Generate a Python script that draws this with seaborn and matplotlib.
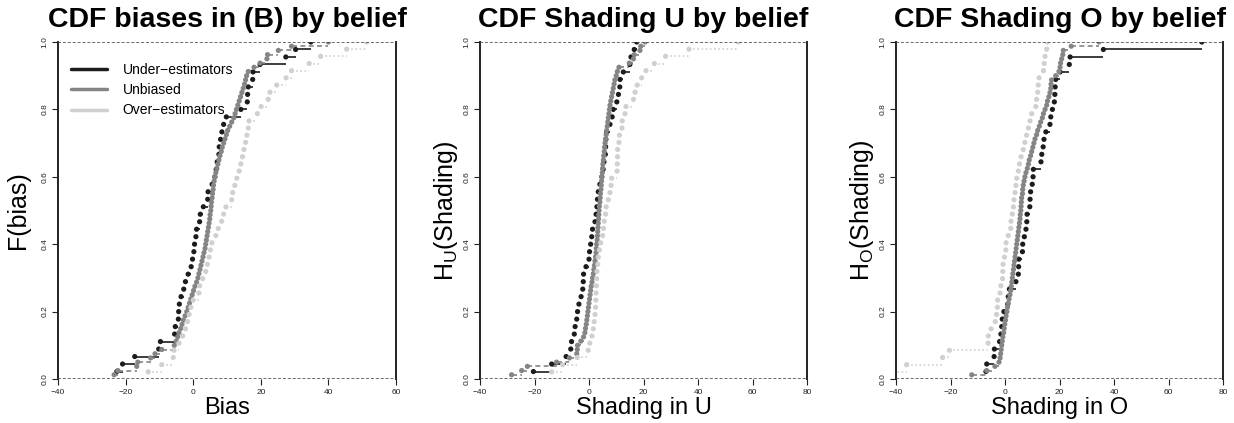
import numpy as np
import pandas as pd
import matplotlib
matplotlib.use("Agg")
import matplotlib.pyplot as plt
from matplotlib.lines import Line2D
import seaborn as sns

# --------------------------
# Data (sorted values)
# --------------------------
bias_under = [-22.6, -20.9, -17.3, -10.2, -9.7, -5.5, -5.3, -4.4, -4.3, -4.1,
              -3.6, -2.8, -2.3, -1.5, -0.6, -0.2, 0.2, 0.4, 0.8, 1.0,
              1.9, 2.1, 3.0, 4.3, 4.4, 5.6, 6.4, 6.8, 7.1, 7.6,
              7.7, 8.1, 8.5, 9.0, 9.8, 14.1, 16.0, 16.1, 16.3, 17.6,
              17.7, 19.8, 27.4, 30.3, 34.8]
bias_unbiased = [-23.4, -22.3, -16.7, -16.4, -12.6, -11.3, -9.3, -5.6, -5.0, -4.6,
                 -4.2, -3.7, -3.3, -2.9, -2.4, -1.9, -1.5, -1.1, -0.7, -0.3,
                 0.1, 0.5, 1.0, 1.4, 1.7, 2.0, 2.3, 2.6, 2.9, 3.2,
                 3.5, 3.7, 3.9, 4.1, 4.3, 4.5, 4.7, 4.9, 5.0, 5.2,
                 5.3, 5.4, 5.6, 5.7, 5.9, 6.0, 6.2, 6.4, 6.7, 7.0,
                 7.3, 7.6, 7.9, 8.3, 8.6, 9.0, 9.4, 9.8, 10.2, 10.8,
                 11.4, 12.0, 12.4, 12.8, 13.2, 13.6, 14.0, 14.4, 14.8, 15.2,
                 15.5, 15.8, 16.3, 18.0, 19.8, 21.8, 22.0, 25.2, 29.1, 40.0]
bias_over = [-13.3, -9.3, -5.9, -5.7, -4.2, -3.1, -2.3, -1.7, -1.2, -0.7,
             0.0, 1.7, 1.9, 2.8, 3.7, 4.2, 4.7, 5.1, 5.5, 6.7,
             7.4, 8.4, 9.0, 9.7, 11.4, 11.7, 12.3, 12.9, 13.6, 14.1,
             14.6, 15.0, 15.5, 15.9, 16.3, 16.5, 19.0, 20.1, 22.2, 22.7,
             24.7, 27.5, 29.1, 34.3, 37.7, 45.4, 51.3]

shadu_under = [-20.4, -13.7, -8.4, -6.7, -6.4, -5.4, -5.1, -4.5, -4.2, -3.7,
               -2.9, -2.3, -2.1, -2.0, -1.1, 0.0, 0.2, 0.6, 1.0, 1.3,
               2.2, 2.6, 2.9, 3.1, 3.4, 4.0, 4.7, 5.2, 5.5, 6.0,
               6.1, 6.2, 6.5, 7.7, 8.5, 8.9, 10.2, 10.8, 11.3, 11.4,
               12.6, 15.0, 15.4, 16.6, 17.5]
shadu_unbiased = [-28.4, -24.7, -22.6, -11.9, -7.2, -4.5, -4.3, -4.2, -3.0, -2.0,
                  -1.5, -1.3, -1.0, -0.8, -0.6, -0.4, -0.2, 0.0, 0.2, 0.4,
                  0.6, 0.8, 1.1, 1.3, 1.6, 1.8, 2.0, 2.2, 2.4, 2.6,
                  2.7, 2.8, 3.0, 3.1, 3.2, 3.3, 3.4, 3.5, 3.6, 3.7,
                  3.8, 4.0, 4.1, 4.2, 4.4, 4.5, 4.6, 4.7, 4.9, 5.0,
                  5.1, 5.3, 5.4, 5.6, 5.7, 5.9, 6.1, 6.3, 6.5, 6.7,
                  6.9, 7.1, 7.3, 7.5, 7.7, 8.0, 8.3, 8.6, 8.9, 9.2,
                  9.5, 10.0, 10.4, 11.0, 14.8, 16.3, 16.6, 18.7, 19.0, 20.6]
shadu_over = [-13.7, -9.7, -4.3, -0.3, 0.3, 1.1, 1.6, 1.9, 2.2, 2.4,
              2.5, 2.6, 2.7, 2.8, 2.9, 3.2, 3.4, 3.8, 4.3, 5.0,
              5.3, 5.6, 6.1, 6.3, 7.1, 7.7, 8.1, 8.3, 10.3, 10.4,
              10.45, 10.5, 11.0, 11.2, 12.1, 12.2, 13.2, 13.6, 16.3, 16.9,
              17.7, 19.3, 20.9, 24.0, 28.1, 36.7, 54.8]

shado_under = [-7.0, -6.7, -4.0, -3.9, -2.0, -1.5, -1.2, -1.0, -0.4, 1.0,
               1.2, 1.6, 4.0, 4.9, 5.0, 5.1, 6.4, 6.5, 7.1, 7.7,
               8.0, 8.1, 9.1, 9.2, 9.4, 10.0, 10.3, 10.4, 13.2, 13.5,
               14.0, 14.3, 15.0, 16.5, 16.8, 17.4, 18.1, 18.3, 18.4, 18.6,
               20.2, 23.6, 23.9, 36.1, 72.2]
shado_unbiased = [-12.2, -6.7, -3.7, -2.2, -1.8, -1.6, -1.4, -1.2, -1.0, -0.8,
                  -0.5, -0.3, -0.1, 0.2, 0.4, 0.7, 0.9, 1.2, 1.5, 1.8,
                  2.1, 2.3, 2.5, 2.7, 2.9, 3.1, 3.3, 3.5, 3.7, 3.9,
                  4.1, 4.3, 4.5, 4.7, 4.9, 5.1, 5.3, 5.5, 5.6, 5.8,
                  5.9, 6.0, 6.1, 6.4, 6.5, 6.7, 7.0, 7.3, 7.7, 8.2,
                  8.6, 8.9, 9.4, 9.8, 10.2, 10.6, 11.0, 11.6, 12.0, 12.6,
                  13.1, 13.7, 14.1, 14.7, 15.3, 15.6, 16.1, 16.5, 16.8, 16.9,
                  17.1, 18.6, 19.8, 20.2, 20.4, 20.8, 21.2, 21.4, 24.3, 34.5]
shado_over = [-44.0, -36.1, -22.9, -20.4, -6.2, -6.1, -5.1, -3.6, -3.1, -2.8,
              -2.7, -1.8, -1.5, -0.9, -0.8, -0.7, -0.2, 0.3, 0.4, 1.2,
              2.1, 2.2, 2.7, 3.1, 3.3, 3.7, 4.0, 4.3, 4.9, 5.3,
              5.9, 6.7, 7.3, 7.9, 8.6, 9.2, 9.8, 11.3, 11.6, 12.0,
              12.2, 12.5, 14.1, 14.4, 14.7, 15.3, 15.5]

groups = ["Under-estimators", "Unbiased", "Over-estimators"]
legend_labels = ["Under\u2212estimators", "Unbiased", "Over\u2212estimators"]

panels = [
    {"series": [bias_under, bias_unbiased, bias_over],
     "title": "CDF biases in (B) by belief", "xlabel": "Bias",
     "ylabel": "F(bias)", "xlim": (-40, 60), "ypad": 8},
    {"series": [shadu_under, shadu_unbiased, shadu_over],
     "title": "CDF Shading U by belief", "xlabel": "Shading in U",
     "ylabel": r"H$_{\mathregular{U}}$(Shading)", "xlim": (-40, 80), "ypad": 2},
    {"series": [shado_under, shado_unbiased, shado_over],
     "title": "CDF Shading O by belief", "xlabel": "Shading in O",
     "ylabel": r"H$_{\mathregular{O}}$(Shading)", "xlim": (-40, 80), "ypad": 2},
]

colors = ["#1c1c1c", "#858585", "#d0d0d0"]
line_styles = ["-", (0, (3, 2)), (0, (1, 1.5))]

# --------------------------
# Style
# --------------------------
sns.set_style("white")
plt.rcParams["font.family"] = ["Liberation Sans", "DejaVu Sans"]
plt.rcParams["text.color"] = "black"
plt.rcParams["axes.labelcolor"] = "black"


def ecdf_frame(series):
    parts = []
    for g, vals in zip(groups, series):
        v = np.sort(np.asarray(vals, dtype=float))
        n = len(v)
        parts.append(pd.DataFrame({"value": v,
                                   "F": np.arange(1, n + 1) / n,
                                   "group": g}))
    return pd.concat(parts, ignore_index=True)


fig = plt.figure(figsize=(12.34, 4.23), dpi=100)
boxes = [(58, 338), (480, 327), (896, 327)]

for (left, width), p in zip(boxes, panels):
    ax = fig.add_axes([left / 1234, 44 / 423, width / 1234, 337 / 423])
    df = ecdf_frame(p["series"])

    # step segments of each ecdf
    for g, c, ls in zip(groups, colors, line_styles):
        d = df[df["group"] == g]
        x = d["value"].values
        y = d["F"].values
        ax.hlines(y[:-1], x[:-1], x[1:], colors=c, linestyles=ls, lw=1.2)

    sns.scatterplot(data=df, x="value", y="F", hue="group",
                    hue_order=groups, palette=colors, s=14,
                    linewidth=0, legend=False, ax=ax, zorder=3)

    ax.axhline(0, color="#444444", ls=(0, (2, 1.2)), lw=1.1, zorder=4)
    ax.axhline(1, color="#444444", ls=(0, (2, 1.2)), lw=1.1, zorder=4)

    ax.set_xlim(*p["xlim"])
    ax.set_ylim(0, 1)
    ax.set_xticks(np.arange(p["xlim"][0], p["xlim"][1] + 1, 20))
    ax.set_yticks([0, 0.2, 0.4, 0.6, 0.8, 1.0])
    ax.set_yticklabels(["0.0", "0.2", "0.4", "0.6", "0.8", "1.0"],
                       rotation=90, va="center")

    for side in ["top", "bottom"]:
        ax.spines[side].set_visible(False)
    for side in ["left", "right"]:
        ax.spines[side].set_color("#222222")
        ax.spines[side].set_linewidth(1.4)

    ax.tick_params(axis="both", bottom=True, left=True, direction="out",
                   length=4, width=0.8, labelsize=6, colors="#222222",
                   pad=3)

    ax.set_title(p["title"], fontsize=20.5, fontweight="bold", pad=11,
                 color="black")
    ax.set_xlabel(p["xlabel"], fontsize=17, labelpad=1)
    ax.set_ylabel(p["ylabel"], fontsize=18, labelpad=p["ypad"])

    if p["xlabel"] == "Bias":
        handles = [Line2D([0], [0], color=c, lw=2.5) for c in colors]
        ax.legend(handles, legend_labels, loc="upper left",
                  bbox_to_anchor=(0.0, 0.975), frameon=False, fontsize=10,
                  handlelength=2.6, handletextpad=1.15, labelspacing=0.45)

plt.savefig("out.png", dpi=100)
